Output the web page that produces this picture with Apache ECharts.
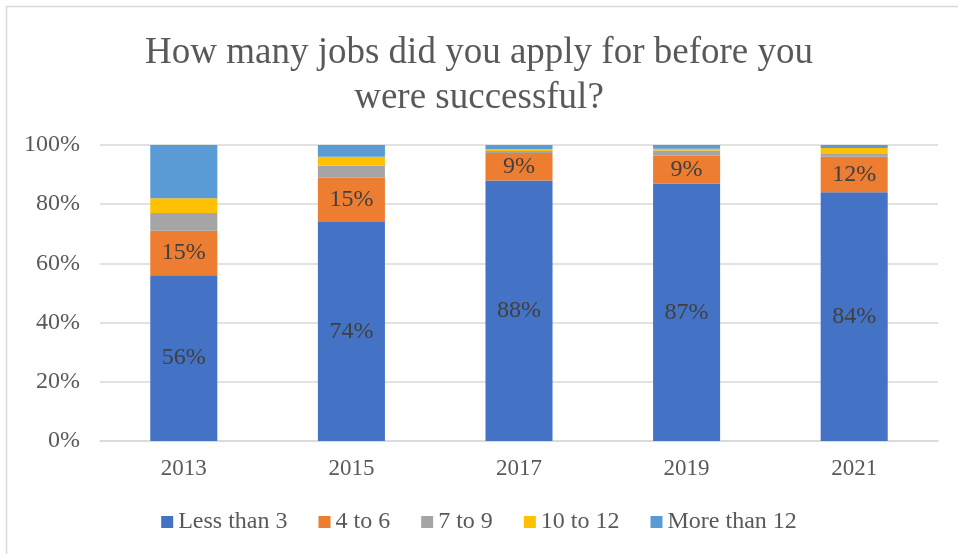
<!DOCTYPE html>
<html><head><meta charset="utf-8">
<script src="https://cdn.jsdelivr.net/npm/echarts@6/dist/echarts.min.js"></script>
<style>html,body{margin:0;padding:0;background:#fff}#c{width:958px;height:554px}</style>
</head><body><div id="c"></div>
<script>
var categories = ['2013','2015','2017','2019','2021'];
var lessThan3 = [56, 74, 88, 87, 84];
var from4to6 = [15, 15, 9.3, 9.4, 12];
var from7to9 = [6, 4, 0.7, 1.7, 1];
var from10to12 = [5, 3, 0.6, 0.6, 2];
var moreThan12 = [18, 4, 1.4, 1.3, 1];
var yTicks = ['0%','20%','40%','60%','80%','100%'];

var font = '"Liberation Serif","Times New Roman",serif';
function mk(name, data, color, label) {
  return {
    name: name, type: 'bar', stack: 'a', data: data, barWidth: '40%',
    itemStyle: {color: color},
    label: label ? {show: true, position: 'inside', fontFamily: font, fontSize: 24, color: '#404040',
      formatter: function(p){return Math.round(p.value) + '%';}} : {show: false},
    emphasis: {disabled: true}
  };
}
var chart = echarts.init(document.getElementById('c'));
chart.setOption({
  animation: false,
  title: {text: 'How many jobs did you apply for before you\nwere successful?', left: 'center', top: 26,
    textStyle: {fontFamily: font, fontSize: 37, fontWeight: 'normal', color: '#595959', lineHeight: 45}},
  graphic: [{type: 'rect', shape: {x: 6.5, y: 6.5, width: 980, height: 600},
    style: {fill: 'none', stroke: '#d9d9d9', lineWidth: 1.5}, silent: true}],
  grid: {left: 100, right: 20, top: 145, bottom: 113},
  legend: {bottom: 15, left: 'center', itemWidth: 12, itemHeight: 12, itemGap: 31, icon: 'rect',
    textStyle: {fontFamily: font, fontSize: 24, color: '#595959'}},
  xAxis: {type: 'category', data: categories,
    axisLine: {lineStyle: {color: '#d9d9d9', width: 1.5}}, axisTick: {show: false},
    axisLabel: {fontFamily: font, fontSize: 23, color: '#595959', margin: 16}},
  yAxis: {type: 'value', min: 0, max: 100, interval: 20,
    axisLabel: {fontFamily: font, fontSize: 24, color: '#595959', margin: 20,
      formatter: function(v){return yTicks[v/20];}},
    splitLine: {lineStyle: {color: '#d9d9d9', width: 1.5}}, axisLine: {show: false}, axisTick: {show: false}},
  series: [
    mk('Less than 3', lessThan3, '#4472c4', true),
    mk('4 to 6', from4to6, '#ed7d31', true),
    mk('7 to 9', from7to9, '#a5a5a5', false),
    mk('10 to 12', from10to12, '#ffc000', false),
    mk('More than 12', moreThan12, '#5b9bd5', false)
  ]
});
</script></body></html>
